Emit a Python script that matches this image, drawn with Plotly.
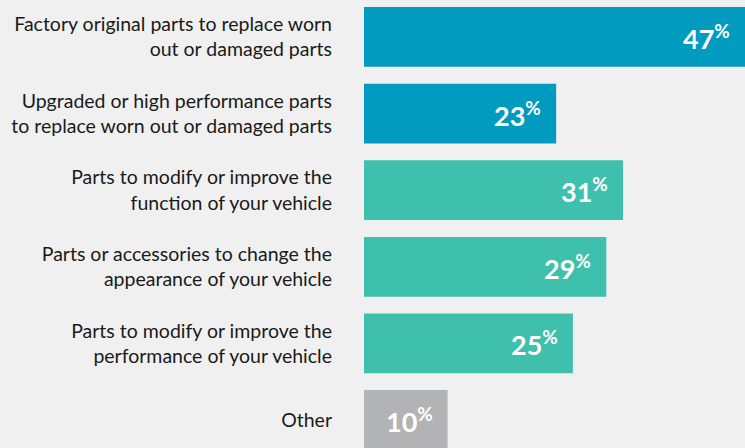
import plotly.graph_objects as go

categories = [
    "Factory original parts to replace worn<br>out or damaged parts",
    "Upgraded or high performance parts<br>to replace worn out or damaged parts",
    "Parts to modify or improve the<br>function of your vehicle",
    "Parts or accessories to change the<br>appearance of your vehicle",
    "Parts to modify or improve the<br>performance of your vehicle",
    "Other",
]
values = [47, 23, 31, 29, 25, 10]
colors = ["#009bbf", "#009bbf", "#3fc0ac", "#3fc0ac", "#3fc0ac", "#b1b3b4"]

XMAX = 45.6
FONT = "Lato"

fig = go.Figure()
fig.add_trace(go.Bar(
    x=values, y=list(range(len(values))), orientation="h",
    marker=dict(color=colors, line=dict(width=0)), width=0.78,
    hoverinfo="skip",
))

for i, v in enumerate(values):
    fig.add_annotation(
        x=min(v, XMAX), y=i, xref="x", yref="y",
        text=f"<b>{v}</b><sup><b>%</b></sup>",
        showarrow=False, xanchor="right", xshift=-13, yshift=0,
        font=dict(family=FONT, size=27, color="white"),
    )

fig.update_layout(
    width=745, height=448,
    margin=dict(l=364, r=0, t=0, b=0),
    paper_bgcolor="#f0f0f0", plot_bgcolor="#f0f0f0",
    showlegend=False,
    font=dict(family=FONT, size=18, color="#1a1a1a"),
)
fig.update_xaxes(range=[0, XMAX], visible=False, showgrid=False, zeroline=False)
fig.update_yaxes(
    range=[5.366, -0.483], tickvals=list(range(len(values))), ticktext=categories,
    showgrid=False, zeroline=False, showline=False, ticks="",
    ticklabelstandoff=31, tickfont=dict(family=FONT, size=19.5, color="#1a1a1a"),
)

fig.write_html(
    "out.html",
    config={"displayModeBar": False},
    post_script="document.body.style.margin='0';document.body.style.padding='0';"
                "document.body.style.background='#f0f0f0';",
)
